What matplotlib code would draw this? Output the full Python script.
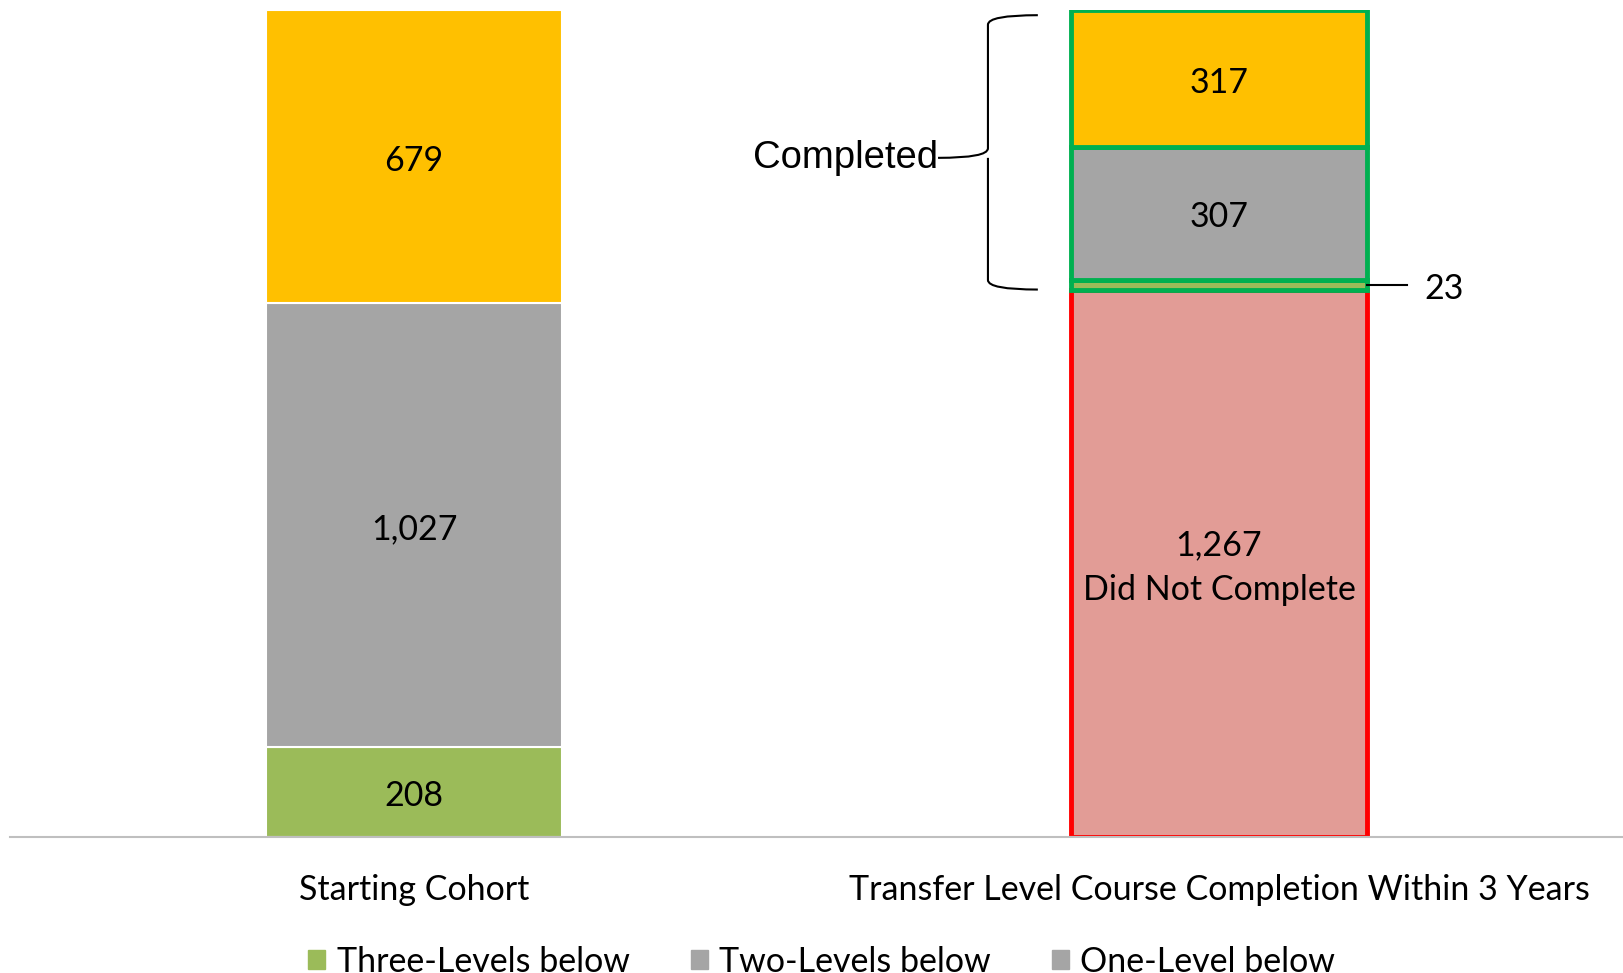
import numpy as np
import matplotlib.pyplot as plt
from matplotlib.path import Path
import matplotlib.patches as mpatches

plt.rcParams['font.family'] = ['Lato', 'DejaVu Sans']

# data
categories = ['Starting Cohort', 'Transfer Level Course Completion Within 3 Years']
start_levels = ['Three-Levels below', 'Two-Levels below', 'One-Level below']
start_values = [208, 1027, 679]
start_colors = ['#9BBB59', '#A5A5A5', '#FFC000']

outcome_values = [1267, 23, 307, 317]
outcome_colors = ['#E29C96', '#9BBB59', '#A5A5A5', '#FFC000']
outcome_edges = ['#FF0000', '#00B050', '#00B050', '#00B050']
outcome_labels = ['{:,}\nDid Not Complete', '', '{:,}', '{:,}']
legend_colors = ['#9BBB59', '#A5A5A5', '#A5A5A5']

W, H = 1623, 973
fig = plt.figure(figsize=(W / 100, H / 100), dpi=100)
ax = fig.add_axes([10 / W, 136 / H, (W - 10) / W, 827 / H])

bar_w = 0.367
x = np.arange(len(categories))
FS = 24.5


def seg_label(xc, yc, s, **kw):
    # label nudged down a touch so it sits like the Excel labels
    ax.annotate(s, (xc, yc), xytext=(0, -3), textcoords='offset points',
                ha='center', va='center', fontsize=FS, **kw)


# starting cohort
bottom = 0
for val, col in zip(start_values, start_colors):
    ax.bar(x[0], val, bottom=bottom, width=bar_w, color=col,
           edgecolor='white', linewidth=1.5)
    seg_label(x[0], bottom + val / 2, f'{val:,}')
    bottom += val

# outcome bar
bottom = 0
for val, col, ec, lab in zip(outcome_values, outcome_colors, outcome_edges, outcome_labels):
    ax.bar(x[1], val, bottom=bottom, width=bar_w, color=col,
           edgecolor=ec, linewidth=3.5, zorder=2 if ec == '#00B050' else 1)
    if lab:
        seg_label(x[1], bottom + val / 2, lab.format(val), linespacing=1.5)
    bottom += val

# small segment callout
small_mid = outcome_values[0] + outcome_values[1] / 2
ax.plot([x[1] + bar_w / 2, x[1] + bar_w / 2 + 0.05], [small_mid, small_mid],
        color='black', lw=1.5, clip_on=False)
ax.text(x[1] + bar_w / 2 + 0.072, small_mid - 10, f'{outcome_values[1]}',
        ha='left', va='center', fontsize=FS)

# brace for completed
total = sum(outcome_values)
y_bot = outcome_values[0]
y_top = total - 12
y_mid = y_bot + (y_top - y_bot) * 0.48
xe, xv, xt = 0.775, 0.713, 0.651
r = 22
verts = [
    (xe, y_top), (xv, y_top), (xv, y_top - r),
    (xv, y_mid + r),
    (xv, y_mid), (xt, y_mid),
    (xv, y_mid), (xv, y_mid - r),
    (xv, y_bot + r),
    (xv, y_bot), (xe, y_bot),
]
codes = [Path.MOVETO, Path.CURVE3, Path.CURVE3, Path.LINETO,
         Path.CURVE3, Path.CURVE3, Path.MOVETO, Path.CURVE3,
         Path.LINETO, Path.CURVE3, Path.CURVE3]
ax.add_patch(mpatches.PathPatch(Path(verts, codes), fill=False, lw=1.5, color='black'))
ax.text(xt, y_mid, 'Completed', ha='right', va='center', fontsize=27.5,
        family='Liberation Sans')

ax.set_xlim(-0.502, 1.502)
ax.set_ylim(0, total)
ax.set_xticks(x)
ax.set_xticklabels(categories, fontsize=FS)
ax.tick_params(axis='x', length=0, pad=27)
ax.set_yticks([])
for s in ['top', 'right', 'left']:
    ax.spines[s].set_visible(False)
ax.spines['bottom'].set_color('#BFBFBF')
ax.spines['bottom'].set_linewidth(1.5)

handles = [mpatches.Patch(color=c, label=l) for c, l in zip(legend_colors, start_levels)]
fig.legend(handles=handles, loc='center', bbox_to_anchor=(0.5064, 0.0115), ncol=3,
           frameon=False, fontsize=FS, handlelength=0.5, handleheight=0.5,
           handletextpad=0.33, columnspacing=1.8)

fig.savefig('out.png', dpi=100)
